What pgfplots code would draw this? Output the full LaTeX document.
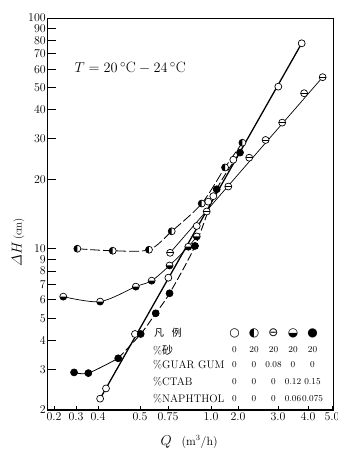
\documentclass[border=0pt]{standalone}
\usepackage{pgfplots}
\pgfplotsset{compat=1.18}
\usepackage{amsmath}
\usepackage{fontspec}
\newfontfamily\sym{DejaVu Sans}
\newfontfamily\cjk{Noto Sans CJK SC}
\pgfdeclareplotmark{lhalf}{%
  \pgfpathcircle{\pgfpointorigin}{\pgfplotmarksize}%
  \pgfsetfillcolor{white}\pgfusepath{fill}%
  \pgfpathmoveto{\pgfqpoint{0pt}{\pgfplotmarksize}}%
  \pgfpatharc{90}{270}{\pgfplotmarksize}%
  \pgfpathclose
  \pgfsetfillcolor{black}\pgfusepath{fill}%
  \pgfpathcircle{\pgfpointorigin}{\pgfplotmarksize}%
  \pgfusepath{stroke}}
\pgfdeclareplotmark{bhalf}{%
  \pgfpathcircle{\pgfpointorigin}{\pgfplotmarksize}%
  \pgfsetfillcolor{white}\pgfusepath{fill}%
  \pgfpathmoveto{\pgfqpoint{-\pgfplotmarksize}{0pt}}%
  \pgfpatharc{180}{360}{\pgfplotmarksize}%
  \pgfpathclose
  \pgfsetfillcolor{black}\pgfusepath{fill}%
  \pgfpathcircle{\pgfpointorigin}{\pgfplotmarksize}%
  \pgfusepath{stroke}}
\pgfdeclareplotmark{ominus}{%
  \pgfpathcircle{\pgfpointorigin}{\pgfplotmarksize}%
  \pgfsetfillcolor{white}\pgfusepath{fill,stroke}%
  \pgfpathmoveto{\pgfqpoint{-\pgfplotmarksize}{0pt}}%
  \pgfpathlineto{\pgfqpoint{\pgfplotmarksize}{0pt}}%
  \pgfusepath{stroke}}
\begin{document}
\begin{tikzpicture}
\path[use as bounding box] (-47bp,-39bp) rectangle (291bp,410bp);
\begin{axis}[at={(0,0)}, anchor=south west, scale only axis,
  width=286bp, height=392bp,
  ymode=log, ymin=2, ymax=100,
  xmin=0.168, xmax=5.042,
  x coord trafo/.code={\pgfmathparse{ifthenelse(#1<0.3, 7+(#1-0.2)*220,
     ifthenelse(#1<0.4, 29+(#1-0.3)*220,
     ifthenelse(#1<0.5, 51+(#1-0.4)*420,
     ifthenelse(#1<0.75, 93+(#1-0.5)*112,
     ifthenelse(#1<1.0, 121+(#1-0.75)*172,
     ifthenelse(#1<2.0, 164+(#1-1)*27,
     ifthenelse(#1<3.0, 191+(#1-2)*40,
     ifthenelse(#1<4.0, 231+(#1-3)*30, 261+(#1-4)*24))))))))}},
  xtick=\empty,
  extra x ticks={0.2,0.3,0.4,0.5,0.75,1.0,2.0,3.0,4.0,5.0},
  extra x tick labels={0.2,0.3,0.4,0.5,0.75,1.0,2.0,3.0,4.0,5.0},
  extra x tick style={major tick length=4bp},
  ytick={2,3,4,5,6,7,8,9,10,20,30,40,50,60,70,80,90,100},
  yticklabels={2,3,4,5,6,7,8,9,10,20,30,40,50,60,70,80,90,100},
  yminorticks=false, xminorticks=false,
  ytick pos=left, xtick pos=bottom,
  major tick length=9bp,
  axis line style={line width=0.6pt},
  tick style={line width=0.9pt, black},
  tick label style={font=\fontsize{12}{12}\selectfont},
  yticklabel style={inner sep=1pt},
  xticklabel style={inner sep=2.5pt},
  mark size=3.5pt,
]
\draw[line width=1.4pt] (rel axis cs:0,1) -- (rel axis cs:0,0) -- (rel axis cs:1,0);
% lines
\addplot[line width=1.3pt, no markers] coordinates {(0.405,2.24) (3.79,77.7)};
\addplot[line width=0.8pt, smooth, dash pattern=on 10pt off 3pt, no markers] coordinates {
 (0.306,10.0) (0.435,9.8) (0.580,9.9) (0.7715,11.9) (0.946,15.7) (1.52,22.5) (2.11,28.8)};
\addplot[line width=0.7pt, no markers] coordinates {(0.762,9.6) (4.61,55.4)};
\addplot[line width=0.7pt, smooth, no markers] coordinates {
 (0.242,6.2) (0.405,5.9) (0.490,6.85) (0.604,7.27) (0.759,8.46) (0.868,10.2) (0.917,11.3)};
\addplot[line width=0.8pt, smooth, no markers] coordinates {
 (0.291,2.91) (0.356,2.89) (0.448,3.35)};
\addplot[line width=0.9pt, smooth, dash pattern=on 8pt off 3pt, no markers] coordinates {
 (0.448,3.35) (0.506,4.27) (0.640,5.25) (0.759,6.41) (0.907,10.28) (1.21,18.1) (2.05,26.1)};
% markers
\addplot[only marks, mark=*, mark options={fill=white, line width=0.7pt}] coordinates {
 (0.405,2.24) (0.419,2.48) (0.488,4.27) (0.752,7.49) (0.917,12.55) (0.984,16.0) (1.085,16.9) (1.826,24.3) (3.01,50.4) (3.79,77.7)};
\addplot[only marks, mark=ominus, mark options={line width=0.7pt}] coordinates {
 (0.762,9.6) (0.975,14.5) (1.64,18.6) (2.28,24.8) (2.69,29.6) (3.14,35.2) (3.87,47.2) (4.61,55.4)};
\addplot[only marks, mark=bhalf, mark options={line width=0.7pt}] coordinates {
 (0.242,6.2) (0.405,5.9) (0.490,6.85) (0.604,7.27) (0.759,8.46) (0.868,10.2) (0.917,11.3)};
\addplot[only marks, mark=lhalf, mark options={line width=0.7pt}] coordinates {
 (0.306,10.0) (0.435,9.8) (0.580,9.9) (0.7715,11.9) (0.946,15.7) (1.52,22.5) (2.11,28.8)};
\addplot[only marks, mark=*, mark options={fill=black, line width=0.7pt}] coordinates {
 (0.291,2.91) (0.356,2.89) (0.448,3.35) (0.506,4.27) (0.640,5.25) (0.759,6.41) (0.907,10.28) (1.21,18.1) (2.05,26.1)};
\end{axis}
% annotations
\node[anchor=west, font=\fontsize{15}{15}\selectfont] at (24bp,342bp) {$T=20\,^{\circ}\mathrm{C}-24\,^{\circ}\mathrm{C}$};
\node[rotate=90] at (-29bp,168bp) {{\fontsize{14}{14}\selectfont$\varDelta H$}\,{\fontsize{11}{11}\selectfont(cm)}};
\node[anchor=base west] at (110bp,-35bp) {{\fontsize{14}{14}\selectfont$Q$}\quad{\fontsize{12}{12}\selectfont(m$^3$/h)}};
% legend table
\node[font=\cjk\fontsize{10}{10}\selectfont] at (121bp,77bp) {凡\hspace{0.8em}例};
\foreach \s [count=\i] in {○,◐,⊖,◒,●} {
  \pgfmathsetmacro{\xx}{168+19.5*\i}
  \node[font=\sym\fontsize{12}{12}\selectfont, inner sep=0pt] at (\xx bp,77bp) {\s};
}
\node[anchor=west, inner sep=0pt, font=\fontsize{11}{11}\selectfont] at (106bp,60bp) {\%{\cjk 砂}};
\node[anchor=west, inner sep=0pt, font=\fontsize{11}{11}\selectfont] at (106bp,45bp) {\%GUAR GUM};
\node[anchor=west, inner sep=0pt, font=\fontsize{11}{11}\selectfont] at (106bp,28bp) {\%CTAB};
\node[anchor=west, inner sep=0pt, font=\fontsize{11}{11}\selectfont] at (106bp,11bp) {\%NAPHTHOL};
\foreach \a/\b/\c/\d/\e/\y in {0/20/20/20/20/60, 0/0/0.08/0/0/45, 0/0/0/0.12/0.15/28, 0/0/0/0.06/0.075/11} {
  \foreach \v [count=\i] in {\a,\b,\c,\d,\e} {
    \pgfmathsetmacro{\xx}{168+19.5*\i}
    \node[font=\fontsize{9}{9}\selectfont, inner sep=0pt] at (\xx bp,\y bp) {\v};
  }
}
\end{tikzpicture}
\end{document}
